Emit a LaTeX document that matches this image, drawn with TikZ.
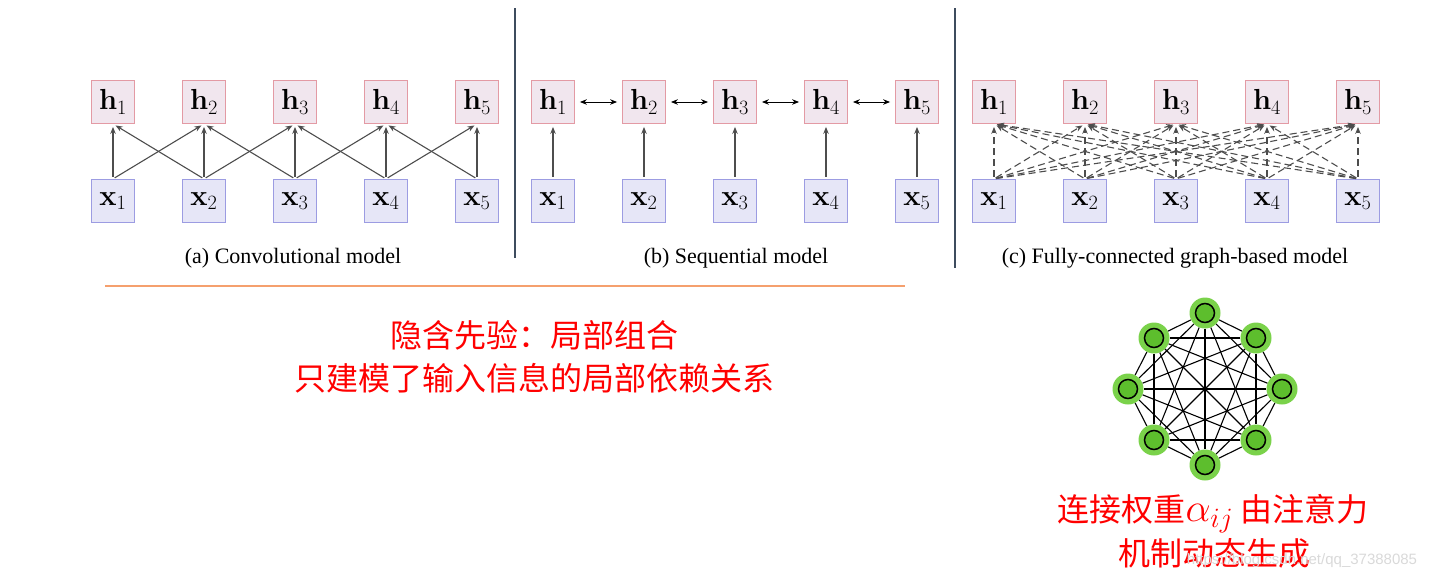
\documentclass[tikz,border=0pt]{standalone}
\usepackage{fix-cm}
\usepackage[no-math]{fontspec}
\setmainfont{Liberation Serif}
\newfontfamily\cjk{Noto Sans CJK SC}
\newfontfamily\urlfont{Liberation Sans}
\usetikzlibrary{positioning,arrows.meta}

\definecolor{hfill}{HTML}{F1E6EE}
\definecolor{hdraw}{HTML}{E39AA4}
\definecolor{xfill}{HTML}{E6E6F7}
\definecolor{xdraw}{HTML}{9C9CE2}
\definecolor{edgegray}{HTML}{4D4D4D}
\definecolor{rulegray}{HTML}{3E4C5E}
\definecolor{ruleorange}{HTML}{F5A06E}
\definecolor{outergreen}{HTML}{7AD24A}
\definecolor{innergreen}{HTML}{5DBE2D}

\begin{document}
\begin{tikzpicture}[x=1pt,y=-1pt,>={Stealth[length=7pt,width=5.5pt]},
        node distance=48pt,
        hbox/.style={rectangle,draw=hdraw,fill=hfill,line width=0.8pt,minimum size=43pt,inner sep=1pt,font=\fontsize{29}{30}\selectfont},
        xbox/.style={rectangle,draw=xdraw,fill=xfill,line width=0.8pt,minimum size=43pt,inner sep=1pt,font=\fontsize{29}{30}\selectfont},
        conn/.style={->,draw=edgegray,line width=1.1pt,shorten <=2pt,shorten >=3pt},
        dconn/.style={->,draw=edgegray,line width=1.1pt,dash pattern=on 7pt off 4pt,shorten <=2pt,shorten >=3pt},
        link/.style={<->,draw=black,line width=0.9pt,shorten <=5pt,shorten >=5pt},
        caption/.style={font=\fontsize{22}{24}\selectfont},
        redtext/.style={text=red,font=\fontsize{32}{36}\selectfont\cjk},
        gnode/.style={circle,fill=outergreen,minimum size=31pt,inner sep=0,
            path picture={\draw[line width=1.5pt,fill=innergreen] (path picture bounding box.center) circle (9.5pt);}},
        gedge/.style={draw=black,line width=1.1pt},
        ]
\useasboundingbox (0,0) rectangle (1433,584);

% (a) convolutional
\foreach \i in {1,...,5}{
    \node[hbox] (aH\i) at ({113+91*(\i-1)},102) {$\mathbf{h}_{\i}$};
    \node[xbox,below=55pt of aH\i] (aX\i) {$\mathbf{x}_{\i}$};
    \path (aX\i.north) edge[conn] (aH\i.south);
}
\foreach \i/\j in {1/2,2/3,3/4,4/5}{
    \path (aX\i.north) edge[conn] (aH\j.south);
    \path (aX\j.north) edge[conn] (aH\i.south);
}
\node[caption] (capA) at (293,258) {(a) Convolutional model};

% (b) sequential
\foreach \i in {1,...,5}{
    \node[hbox] (bH\i) at ({553+91*(\i-1)},102) {$\mathbf{h}_{\i}$};
    \node[xbox,below=55pt of bH\i] (bX\i) {$\mathbf{x}_{\i}$};
    \path (bX\i.north) edge[conn] (bH\i.south);
}
\foreach \i/\j in {1/2,2/3,3/4,4/5}
    \path (bH\i.east) edge[link] (bH\j.west);
\node[caption] (capB) at (736,258) {(b) Sequential model};

% (c) fully connected
\foreach \i in {1,...,5}{
    \node[hbox] (cH\i) at ({994+91*(\i-1)},102) {$\mathbf{h}_{\i}$};
    \node[xbox,below=55pt of cH\i] (cX\i) {$\mathbf{x}_{\i}$};
}
\foreach \i in {1,...,5}
    \foreach \j in {1,...,5}
        \path (cX\j.north) edge[dconn] (cH\i.south);
\node[caption] (capC) at (1175,258) {(c) Fully-connected graph-based model};

% rules
\draw[rulegray,line width=1.3pt] (515,8) -- (515,258);
\draw[rulegray,line width=1.3pt] (955,8) -- (955,268);
\draw[ruleorange,line width=1.6pt] (105,286) -- (905,286);

% notes
\node[redtext] (prior) at (534,335) {隐含先验：局部组合};
\node[redtext] (local) at (534,378) {只建模了输入信息的局部依赖关系};

% complete graph
\foreach \k/\px/\py in {0/1205/313,1/1256/338,2/1282/389,3/1256/440,4/1205/465,5/1154/440,6/1128/389,7/1154/338}
    \node[gnode] (g\k) at (\px,\py) {};
\foreach \a in {0,...,6}{
    \pgfmathtruncatemacro\s{\a+1}
    \foreach \b in {\s,...,7}
        \path (g\a) edge[gedge] (g\b);
}
\node[redtext] (weight) at (1213,514) {连接权重{\fontsize{40}{40}\selectfont$\alpha_{ij}$} 由注意力};
\node[redtext] (dyn) at (1214,553) {机制动态生成};
\node[text=gray!30,font=\fontsize{15}{16}\selectfont\urlfont] (mark) at (1302,561) {https://blog.csdn.net/qq\_37388085};

\end{tikzpicture}
\end{document}
